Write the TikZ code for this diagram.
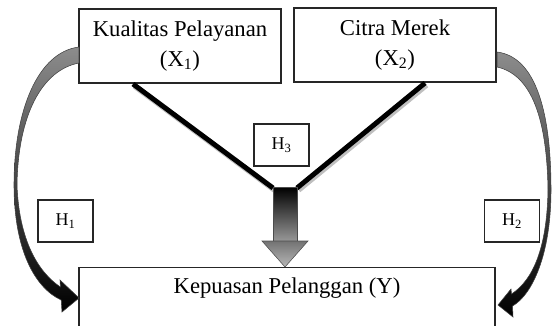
\documentclass[tikz,border=0pt]{standalone}
\usepackage{fontspec}
\setmainfont{Liberation Serif}
\begin{document}
\begin{tikzpicture}[x=0.75pt,y=-0.75pt,
  box/.style={draw=black!85, line width=0.8pt, fill=white, inner sep=0pt, align=center,
    font=\fontsize{17}{22.5}\selectfont},
  lab/.style={inner sep=0pt, font=\fontsize{17}{22.5}\selectfont},
  hbox/.style={draw=black!85, line width=0.8pt, fill=white, minimum width=41.25pt,
    minimum height=31.5pt, inner sep=0pt, font=\fontsize{13.5}{16}\selectfont},
  vline/.style={line width=3.7pt, black},
  vshadow/.style={line width=4.2pt, black!25},
  curv/.style={draw=black!75, line width=0.4pt}]
\useasboundingbox (0,0) rectangle (553,325);
\clip (0,0) rectangle (553,325);

% boxes
\node[box, minimum width=151.5pt, minimum height=55.5pt] (x1) at (180,46)
  {Kualitas Pelayanan\\(X\textsubscript{1})};
\node[box, minimum width=151.5pt, minimum height=55.5pt] (x2) at (395,45)
  {Citra Merek\\(X\textsubscript{2})};
\node[box, minimum width=312pt, minimum height=60pt, anchor=north] (y) at (287,267) {};
\node[lab] (ylab) at (287,288) {Kepuasan Pelanggan (Y)};
\node[hbox] (h3) at (281.5,145) {H\textsubscript{3}};
\node[hbox] (h1) at (65.5,221) {H\textsubscript{1}};
\node[hbox] (h2) at (512,221) {H\textsubscript{2}};

% V lines
\coordinate (l1) at (133,84);
\coordinate (l2) at (425,83);
\coordinate (jl) at (273,188);
\coordinate (jr) at (297,188);
\draw[vshadow] ([shift={(1.5,2)}]l1) -- ([shift={(1.5,2)}]jl);
\draw[vshadow] ([shift={(1.5,2)}]l2) -- ([shift={(1.5,2)}]jr);
\draw[vline] (l1) -- (jl);
\draw[vline] (l2) -- (jr);

% block arrow
\shade[top color=black, bottom color=black!40] (273,187) rectangle (297,241.5);
\draw[black!70, line width=0.4pt] (273,187) rectangle (297,241);
\shade[top color=black!55, bottom color=black!28, draw=black!70, line width=0.4pt]
  (262,241) -- (308,241) -- (285,267) -- cycle;

% left curved arrow
\shade[curv, top color=black!45, middle color=black!90, bottom color=black]
  (79,47) .. controls (38,52) and (14,110) .. (14,185)
  .. controls (14,250) and (35,288) .. (61.2,300)
  -- (62,312) -- (79,298) -- (60,280) -- (60.4,287)
  .. controls (38,272) and (19,240) .. (17,185)
  .. controls (18,115) and (42,70) .. (79,63) -- cycle;

% right curved arrow
\shade[curv, top color=black!45, middle color=black!90, bottom color=black]
  (497,52) .. controls (537,57) and (551,115) .. (551,190)
  .. controls (551,255) and (532,295) .. (512.5,306)
  -- (513,317) -- (498,305) -- (511,289) -- (511.5,294)
  .. controls (533,280) and (547,248) .. (548,190)
  .. controls (547,122) and (533,75) .. (497,67) -- cycle;
\end{tikzpicture}
\end{document}
